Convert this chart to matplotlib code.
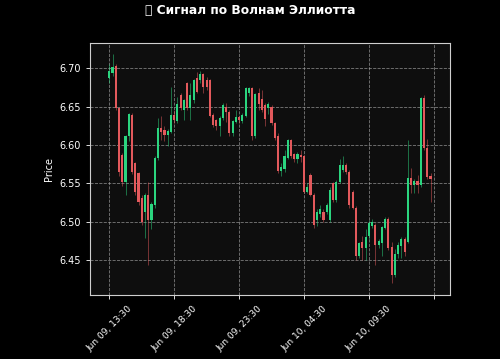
import matplotlib
matplotlib.use("Agg")
import matplotlib.pyplot as plt

# OHLC values (15-minute candles)
opens = [6.687, 6.694, 6.703, 6.648, 6.587, 6.552, 6.611, 6.639, 6.576, 6.563,
         6.531, 6.513, 6.535, 6.502, 6.522, 6.583, 6.622, 6.619, 6.613, 6.617,
         6.639, 6.631, 6.665, 6.645, 6.680, 6.648, 6.658, 6.687, 6.684, 6.692,
         6.684, 6.684, 6.639, 6.632, 6.625, 6.635, 6.650, 6.643, 6.615, 6.630,
         6.636, 6.631, 6.638, 6.668, 6.674, 6.611, 6.668, 6.660, 6.652, 6.648,
         6.650, 6.628, 6.611, 6.566, 6.569, 6.583, 6.606, 6.588, 6.582, 6.587,
         6.585, 6.539, 6.561, 6.535, 6.502, 6.510, 6.513, 6.513, 6.502, 6.550,
         6.528, 6.552, 6.567, 6.574, 6.565, 6.539, 6.518, 6.455, 6.474, 6.466,
         6.482, 6.494, 6.496, 6.470, 6.472, 6.492, 6.504, 6.467, 6.430, 6.458,
         6.468, 6.478, 6.474, 6.557, 6.548, 6.553, 6.548, 6.661, 6.596, 6.560]
highs = [6.705, 6.718, 6.705, 6.650, 6.590, 6.613, 6.642, 6.641, 6.578, 6.565,
         6.535, 6.537, 6.552, 6.525, 6.585, 6.635, 6.637, 6.624, 6.621, 6.676,
         6.645, 6.662, 6.668, 6.660, 6.682, 6.680, 6.686, 6.695, 6.696, 6.694,
         6.688, 6.686, 6.641, 6.634, 6.638, 6.655, 6.654, 6.645, 6.633, 6.645,
         6.638, 6.641, 6.676, 6.676, 6.676, 6.668, 6.674, 6.672, 6.654, 6.656,
         6.652, 6.630, 6.616, 6.576, 6.593, 6.608, 6.608, 6.590, 6.591, 6.593,
         6.587, 6.550, 6.563, 6.537, 6.517, 6.522, 6.516, 6.524, 6.545, 6.552,
         6.554, 6.582, 6.585, 6.576, 6.567, 6.541, 6.520, 6.474, 6.482, 6.490,
         6.502, 6.504, 6.498, 6.478, 6.495, 6.506, 6.506, 6.474, 6.465, 6.474,
         6.480, 6.480, 6.606, 6.570, 6.556, 6.561, 6.663, 6.665, 6.608, 6.563]
lows = [6.680, 6.690, 6.646, 6.560, 6.547, 6.535, 6.605, 6.562, 6.535, 6.522,
        6.496, 6.479, 6.443, 6.490, 6.518, 6.580, 6.607, 6.605, 6.598, 6.615,
        6.628, 6.628, 6.645, 6.633, 6.646, 6.633, 6.655, 6.667, 6.680, 6.667,
        6.672, 6.636, 6.623, 6.620, 6.611, 6.632, 6.630, 6.612, 6.612, 6.628,
        6.628, 6.628, 6.636, 6.664, 6.607, 6.609, 6.645, 6.643, 6.624, 6.640,
        6.626, 6.607, 6.564, 6.560, 6.565, 6.581, 6.583, 6.578, 6.577, 6.578,
        6.537, 6.537, 6.533, 6.492, 6.494, 6.506, 6.499, 6.510, 6.500, 6.525,
        6.525, 6.550, 6.565, 6.562, 6.518, 6.516, 6.450, 6.453, 6.450, 6.450,
        6.478, 6.492, 6.443, 6.466, 6.455, 6.490, 6.463, 6.420, 6.428, 6.453,
        6.453, 6.455, 6.472, 6.538, 6.538, 6.538, 6.545, 6.594, 6.556, 6.526]
closes = [6.696, 6.702, 6.648, 6.565, 6.552, 6.611, 6.640, 6.565, 6.539, 6.526,
          6.500, 6.535, 6.502, 6.523, 6.583, 6.622, 6.617, 6.613, 6.618, 6.639,
          6.632, 6.653, 6.648, 6.658, 6.648, 6.665, 6.684, 6.669, 6.692, 6.676,
          6.676, 6.638, 6.626, 6.624, 6.635, 6.652, 6.643, 6.615, 6.631, 6.636,
          6.632, 6.639, 6.674, 6.674, 6.611, 6.666, 6.653, 6.645, 6.634, 6.653,
          6.628, 6.609, 6.566, 6.571, 6.585, 6.606, 6.585, 6.582, 6.588, 6.584,
          6.539, 6.545, 6.535, 6.496, 6.513, 6.516, 6.502, 6.522, 6.541, 6.528,
          6.552, 6.574, 6.574, 6.565, 6.522, 6.518, 6.455, 6.472, 6.466, 6.480,
          6.498, 6.500, 6.470, 6.475, 6.493, 6.503, 6.466, 6.430, 6.458, 6.470,
          6.478, 6.460, 6.557, 6.548, 6.553, 6.548, 6.661, 6.596, 6.558, 6.556]

tick_pos = [0, 20, 40, 60, 80, 100]
tick_labels = ['Jun 09, 13:30', 'Jun 09, 18:30', 'Jun 09, 23:30',
               'Jun 10, 04:30', 'Jun 10, 09:30', '']

up_color = '#2bd57f'
down_color = '#e3595c'

fig = plt.figure(figsize=(5, 3.59), dpi=100, facecolor='black')
ax = fig.add_axes([0.18, 0.178, 0.72, 0.702])
ax.set_facecolor('#0e0e0e')

x = list(range(len(opens)))
colors = [up_color if c >= o else down_color for o, c in zip(opens, closes)]
bottoms = [min(o, c) for o, c in zip(opens, closes)]
heights = [max(abs(c - o), 0.0008) for o, c in zip(opens, closes)]

ax.vlines(x, lows, highs, colors=colors, linewidth=0.7, alpha=0.5, zorder=2)
ax.bar(x, heights, bottom=bottoms, width=0.65, color=colors, linewidth=0, zorder=3)

ax.set_xlim(-5.95, 105)
ax.set_ylim(6.4044, 6.7326)
ax.set_yticks([6.45, 6.50, 6.55, 6.60, 6.65, 6.70])
ax.set_yticklabels(['6.45', '6.50', '6.55', '6.60', '6.65', '6.70'])
ax.set_xticks(tick_pos)
ax.set_xticklabels(tick_labels, rotation=45, ha='center')

ax.grid(True, color='#aaaaaa', linestyle='--', linewidth=0.6, alpha=0.7)
ax.set_axisbelow(True)
for s in ax.spines.values():
    s.set_color('#cfcfcf')
    s.set_linewidth(0.8)
ax.tick_params(colors='white', labelsize=7, length=3, width=0.6)
ax.tick_params(axis='x', labelsize=6.5)
ax.set_ylabel('Price', color='white', fontsize=7)

fig.suptitle('📈 Сигнал по Волнам Эллиотта', color='white', fontsize=8.8,
             fontweight='bold', x=0.5, y=0.99)

fig.savefig('out.png', dpi=100, facecolor='black')
